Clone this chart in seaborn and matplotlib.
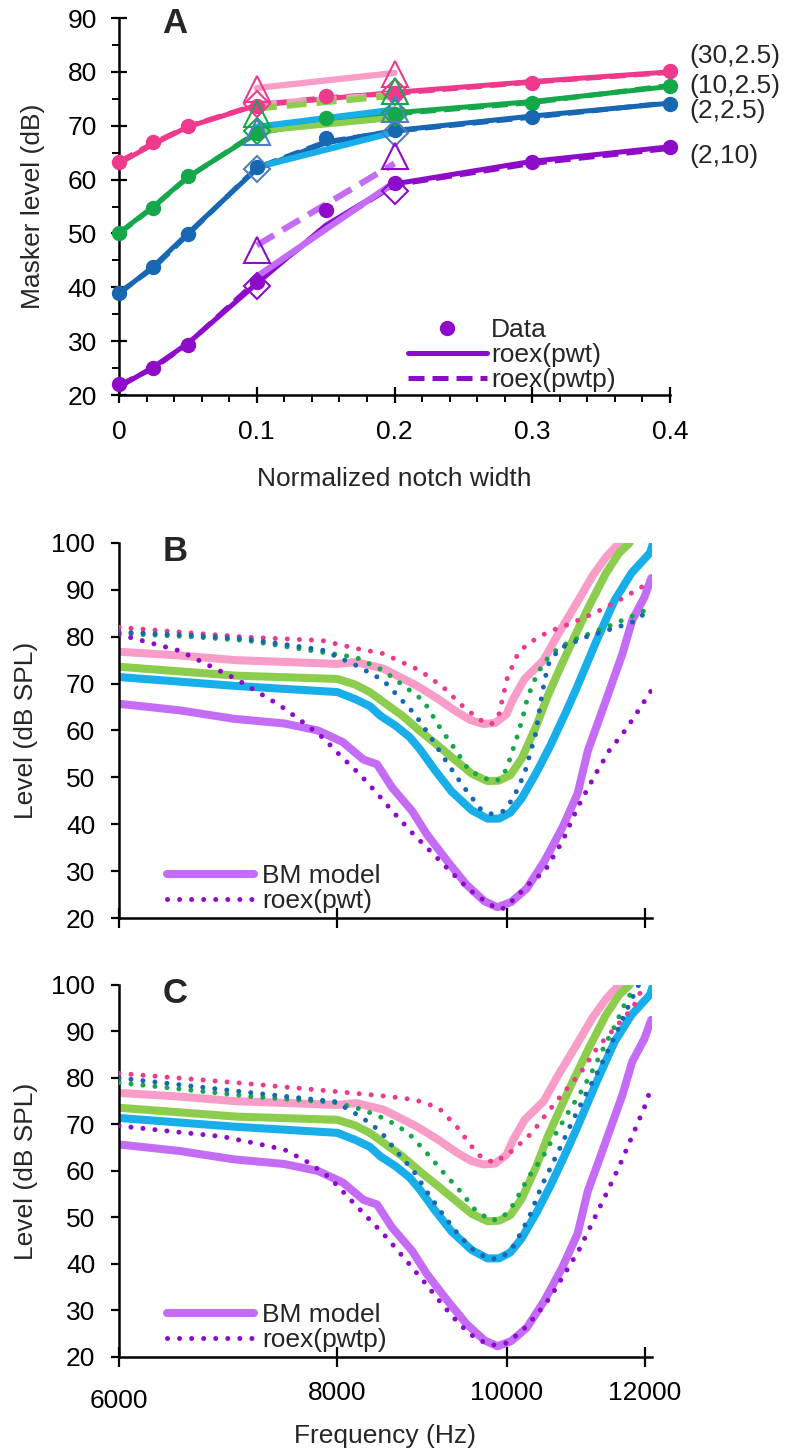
import matplotlib
matplotlib.use("Agg")
import matplotlib.pyplot as plt
import matplotlib.ticker as mticker
from matplotlib.lines import Line2D
import seaborn as sns

sns.set_theme(style="ticks")
plt.rcParams["font.family"] = ["Liberation Sans", "DejaVu Sans"]
plt.rcParams["axes.linewidth"] = 1.8
plt.rcParams["axes.edgecolor"] = "black"
plt.rcParams["xtick.color"] = "black"
plt.rcParams["ytick.color"] = "black"

FS = 19

# colours
dark = {"pink": "#EE3A8C", "green": "#14A84B", "blue": "#1767B2", "purple": "#8E0BC9"}
light = {"pink": "#F89CC8", "green": "#8DCD4E", "blue": "#18AEEA", "purple": "#C56CF6"}
open_edge = {"pink": "#EE3A8C", "green": "#14A84B", "blue": "#4F7FBF", "purple": "#8E0BC9"}
conds = ["pink", "green", "blue", "purple"]
cond_labels = {"pink": "(30,2.5)", "green": "(10,2.5)", "blue": "(2,2.5)", "purple": "(2,10)"}

# ---------------- panel A data ----------------
notch = [0, 0.025, 0.05, 0.1, 0.15, 0.2, 0.3, 0.4]
data_A = {
    "pink":   [63.2, 66.9, 69.9, 73.6, 75.5, 76.1, 78.0, 80.1],
    "green":  [50.0, 54.8, 60.6, 68.7, 71.5, 72.1, 74.2, 77.4],
    "blue":   [39.0, 43.7, 49.9, 62.3, 67.7, 69.3, 71.7, 74.1],
    "purple": [22.0, 25.0, 29.3, 41.0, 54.3, 59.4, 63.2, 66.0],
}
pwt_A = {
    "pink":   [63.0, 66.6, 69.8, 73.8, 75.0, 76.2, 78.2, 80.0],
    "green":  [50.1, 55.0, 60.5, 68.6, 70.8, 72.4, 74.5, 77.3],
    "blue":   [38.8, 43.9, 50.0, 62.0, 66.8, 69.1, 71.8, 74.2],
    "purple": [21.5, 25.2, 29.6, 40.7, 51.5, 59.2, 63.4, 66.1],
}
pwtp_A = {
    "pink":   [63.3, 66.8, 69.9, 73.9, 75.2, 76.0, 78.1, 79.9],
    "green":  [50.0, 54.9, 60.4, 68.8, 71.0, 72.2, 74.3, 77.5],
    "blue":   [39.0, 43.6, 49.8, 62.2, 67.0, 69.0, 71.6, 74.3],
    "purple": [21.8, 25.0, 29.5, 41.2, 51.0, 59.0, 63.0, 65.8],
}
bm_notch = [0.1, 0.2]
bm_upper_A = {"pink": [77.0, 79.8], "green": [73.2, 75.6], "blue": [69.8, 73.0], "purple": [47.8, 63.0]}
bm_lower_A = {"pink": [74.0, 75.8], "green": [69.0, 71.5], "blue": [62.3, 68.8], "purple": [42.0, 59.5]}
upper_dashed = {"pink": False, "green": True, "blue": False, "purple": True}
lower_dashed = {"pink": True, "green": False, "blue": False, "purple": False}
tri_A = {"pink": [76.9, 79.6], "green": [72.2, 76.5], "blue": [68.8, 73.2], "purple": [47.0, 64.3]}
dia_A = {"pink": [74.0, 76.2], "green": [69.0, 72.3], "blue": [62.0, 68.6], "purple": [40.3, 57.8]}
label_y_A = {"pink": 82.9, "green": 77.4, "blue": 72.7, "purple": 64.3}

# ---------------- BM model curves (panels B and C) ----------------
bm_f = {
    "pink": [6000, 6500, 7000, 7500, 8000, 8200, 8500, 8880, 9140, 9370, 9540, 9700, 9850, 10000,
             10080, 10240, 10500, 10700, 10960, 11200, 11400, 11600],
    "green": [6000, 7000, 8000, 8190, 8350, 8500, 8720, 8920, 9140, 9330, 9550, 9750, 9900, 10050,
              10200, 10400, 10560, 10750, 10910, 11140, 11400, 11600, 11760],
    "blue": [6000, 7000, 8000, 8190, 8350, 8470, 8640, 8800, 8920, 9100, 9300, 9550, 9750, 9900,
             10050, 10200, 10400, 10600, 10800, 10950, 11260, 11530, 11790, 12080, 12130],
    "purple": [6000, 6500, 6980, 7460, 7800, 8060, 8280, 8430, 8600, 8830, 9000, 9250, 9480, 9710,
               9880, 10060, 10270, 10510, 10760, 10980, 11130, 11290, 11450, 11650, 11800, 11990, 12100],
}
bm_db = {
    "pink": [76.8, 76.0, 75.0, 74.6, 74.2, 74.6, 73.2, 69.6, 66.7, 63.9, 62.2, 61.4, 61.6, 63.5,
             66.5, 71.0, 75.0, 80.5, 87.0, 93.0, 97.0, 100.0],
    "green": [73.6, 71.7, 71.0, 69.8, 68.2, 66.1, 63.1, 59.9, 56.7, 53.9, 50.8, 49.2, 49.3, 50.5,
              54.0, 61.0, 67.5, 74.0, 79.2, 86.3, 93.6, 97.9, 100.0],
    "blue": [71.4, 69.5, 68.2, 66.7, 65.2, 63.1, 61.0, 58.6, 56.0, 51.5, 47.0, 43.0, 41.2, 41.2,
             42.5, 45.5, 51.0, 57.0, 63.5, 68.5, 79.2, 87.8, 93.6, 97.9, 100.0],
    "purple": [65.7, 64.3, 62.5, 61.5, 60.0, 57.5, 53.8, 52.8, 47.8, 42.8, 37.9, 32.1, 27.2, 23.6,
               22.3, 23.4, 26.3, 32.1, 39.2, 46.5, 55.7, 62.1, 68.5, 76.4, 83.5, 88.4, 92.5],
}

# ---------------- roex(pwt) fits (panel B) ----------------
pwt_f = {
    "pink": [6000, 6500, 7100, 7840, 8200, 8500, 8920, 9200, 9450, 9650, 9800, 9900, 10010, 10150,
             10290, 10560, 10910, 11250, 11600, 11950, 12100],
    "green": [6000, 6600, 7100, 7840, 8200, 8500, 8960, 9160, 9340, 9520, 9800, 9910, 10000, 10060,
              10140, 10210, 10270, 10350, 10500, 10700, 10900, 11400, 12000, 12100],
    "blue": [6000, 6600, 7100, 7840, 8200, 8500, 8860, 9050, 9250, 9440, 9660, 9790, 9960, 10090,
             10240, 10390, 10480, 10560, 10720, 11110, 11420, 11790, 11960, 12100],
    "purple": [6000, 6500, 7000, 7421, 7632, 7849, 8034, 8238, 8426, 8602, 8838, 9070, 9282, 9525,
               9775, 9934, 10100, 10294, 10514, 10765, 10978, 11243, 11448, 11712, 11999, 12100],
}
pwt_db = {
    "pink": [82.0, 81.0, 79.9, 79.2, 77.5, 76.4, 72.8, 69.2, 65.0, 62.3, 61.3, 63.5, 71.3, 76.4,
             78.6, 81.0, 83.0, 85.2, 87.8, 90.6, 92.0],
    "green": [80.7, 80.0, 79.2, 76.7, 75.6, 72.8, 66.4, 60.6, 56.1, 51.4, 49.2, 49.5, 51.8, 54.8,
              58.7, 62.5, 66.4, 70.0, 74.5, 77.5, 79.2, 82.0, 85.6, 86.0],
    "blue": [81.0, 80.3, 79.5, 77.2, 73.9, 70.7, 63.5, 58.5, 53.0, 48.2, 43.3, 42.2, 42.8, 45.6,
             50.9, 59.3, 68.0, 74.0, 77.5, 80.0, 81.4, 83.0, 84.6, 85.5],
    "purple": [80.5, 77.0, 71.0, 65.3, 62.0, 58.5, 54.6, 50.7, 46.7, 42.8, 38.0, 33.8, 30.0, 26.0,
               22.9, 21.8, 24.0, 27.2, 30.0, 36.4, 43.5, 50.7, 55.7, 60.4, 66.4, 68.5],
}

# ---------------- roex(pwtp) fits (panel C) ----------------
pwtp_f = {
    "pink": [6000, 7000, 7977, 8573, 8865, 9142, 9366, 9554, 9670, 9836, 9945, 10080, 10340, 10560,
             10776, 11023, 11278, 11600, 11818, 11945],
    "green": [6000, 7150, 7977, 8270, 8545, 8783, 9000, 9200, 9420, 9600, 9800, 9950, 10100, 10290,
              10490, 10660, 10850, 11050, 11220, 11370, 11540, 11700, 11830],
    "blue": [6000, 7150, 7977, 8250, 8470, 8650, 8850, 9000, 9200, 9400, 9600, 9800, 9950, 10100,
             10300, 10470, 10700, 10900, 11100, 11300, 11500, 11760, 11900],
    "purple": [6000, 6432, 6877, 7150, 7461, 7704, 7920, 8090, 8300, 8500, 8750, 9000, 9200, 9400,
               9600, 9800, 10000, 10200, 10400, 10600, 10800, 11000, 11200, 11400, 11600, 11800,
               12000, 12100],
}
pwtp_db = {
    "pink": [81.0, 79.0, 77.1, 76.0, 75.3, 73.6, 69.5, 65.2, 63.0, 61.8, 62.9, 64.4, 68.2, 72.7,
             76.8, 81.1, 86.7, 91.8, 95.3, 98.9],
    "green": [79.0, 76.0, 74.7, 73.2, 71.0, 68.2, 63.9, 59.7, 55.4, 51.5, 49.3, 50.0, 53.0, 58.6,
              63.1, 67.8, 72.7, 77.5, 82.2, 86.7, 91.4, 96.4, 99.4],
    "blue": [80.0, 76.8, 74.9, 71.7, 68.5, 64.2, 59.9, 55.6, 50.5, 46.0, 42.5, 41.0, 41.5, 44.0,
             50.0, 56.7, 64.0, 70.5, 76.5, 82.0, 88.0, 96.0, 100.0],
    "purple": [69.7, 68.5, 67.4, 66.1, 64.6, 61.8, 58.6, 54.9, 50.5, 46.5, 41.0, 35.5, 31.0, 27.0,
               24.0, 22.5, 23.0, 25.5, 29.0, 33.0, 38.0, 43.0, 49.0, 55.0, 61.0, 67.5, 74.0, 78.0],
}

freq_ticks = [6000, 8000, 10000, 12000]
freq_labels = ["6000", "8000", "10000", "12000"]
level_ticks = [20, 30, 40, 50, 60, 70, 80, 90, 100]

DOT = (0, (0.01, 2.4))
DASH = (0, (3.2, 1.6))

fig = plt.figure(figsize=(7.89, 14.53), dpi=100)
axA = fig.add_axes([0.1508, 0.7281, 0.6984, 0.2595])
axB = fig.add_axes([0.1508, 0.3682, 0.6755, 0.2581])
axC = fig.add_axes([0.1508, 0.0661, 0.6755, 0.2560])

# ---------------- panel A ----------------
for c in conds:
    sns.lineplot(x=notch, y=pwt_A[c], ax=axA, color=dark[c], lw=3.6, zorder=3, clip_on=False)
    sns.lineplot(x=notch, y=pwtp_A[c], ax=axA, color=dark[c], lw=3.6, zorder=3,
                 linestyle=DASH, clip_on=False)
for c in conds:
    sns.lineplot(x=bm_notch, y=bm_upper_A[c], ax=axA, color=light[c], lw=4.5, zorder=4,
                 linestyle=DASH if upper_dashed[c] else "-")
    sns.lineplot(x=bm_notch, y=bm_lower_A[c], ax=axA, color=light[c], lw=4.5, zorder=4,
                 linestyle=DASH if lower_dashed[c] else "-")
for c in conds:
    sns.scatterplot(x=notch, y=data_A[c], ax=axA, color=dark[c], s=105, edgecolor=dark[c],
                    linewidth=0.8, zorder=6, clip_on=False, legend=False)
for c in conds:
    axA.plot(bm_notch, tri_A[c], ls="none", marker="^", ms=19, mfc="none",
             mec=open_edge[c], mew=1.5, zorder=7)
    axA.plot(bm_notch, dia_A[c], ls="none", marker="D", ms=13.5, mfc="none",
             mec=open_edge[c], mew=1.5, zorder=7)
    axA.text(0.414, label_y_A[c], cond_labels[c], fontsize=FS, va="center", ha="left",
             clip_on=False)

axA.set_xlim(0, 0.4)
axA.set_ylim(20, 90)
axA.set_xticks([0, 0.1, 0.2, 0.3, 0.4])
axA.set_xticklabels(["0", "0.1", "0.2", "0.3", "0.4"])
axA.set_yticks([20, 30, 40, 50, 60, 70, 80, 90])
axA.xaxis.set_minor_locator(mticker.MultipleLocator(0.02))
axA.yaxis.set_minor_locator(mticker.MultipleLocator(5))
axA.tick_params(which="major", direction="inout", length=12, width=1.6, labelsize=FS)
axA.tick_params(axis="y", which="major", pad=10)
axA.tick_params(axis="x", which="major", pad=12)
axA.tick_params(which="minor", direction="out", length=5, width=1.4)
axA.set_ylabel("Masker level (dB)", fontsize=FS)
axA.set_xlabel("Normalized notch width", fontsize=FS)
axA.yaxis.set_label_coords(-0.134, 0.5)
axA.xaxis.set_label_coords(0.5, -0.19)
axA.text(0.078, 1.03, "A", transform=axA.transAxes, fontsize=25, fontweight="bold", va="top")

legA = [
    Line2D([], [], ls="none", marker="o", ms=10, color=dark["purple"]),
    Line2D([], [], lw=3.6, color=dark["purple"]),
    Line2D([], [], lw=3.6, color=dark["purple"], ls=DASH),
]
axA.legend(legA, ["Data", "roex(pwt)", "roex(pwtp)"], loc="lower right",
           bbox_to_anchor=(0.93, -0.035), frameon=False, fontsize=FS, handlelength=3.0,
           handletextpad=0.15, labelspacing=0.05, borderaxespad=0.2)


# ---------------- panels B and C ----------------
def freq_panel(ax, fit_f, fit_db, fit_label, letter, show_labels):
    for c in conds:
        sns.lineplot(x=bm_f[c], y=bm_db[c], ax=ax, color=light[c], lw=5.8, zorder=2,
                     solid_capstyle="round", solid_joinstyle="round")
    for c in conds:
        sns.lineplot(x=fit_f[c], y=fit_db[c], ax=ax, color=dark[c], lw=3.6, zorder=3,
                     linestyle=DOT, dash_capstyle="round")
    ax.set_xscale("log")
    ax.set_xlim(6000, 12111)
    ax.set_ylim(20, 100)
    ax.set_yticks(level_ticks)
    ax.set_xticks(freq_ticks)
    ax.xaxis.set_minor_locator(mticker.NullLocator())
    ax.tick_params(axis="y", direction="out", length=6, width=1.6, labelsize=FS, pad=11)
    ax.tick_params(axis="x", direction="inout", length=15, width=1.6, labelsize=FS, pad=10)
    if show_labels:
        ax.set_xticklabels(freq_labels)
        ax.get_xticklabels()[0].set_y(-0.02)
        ax.set_xlabel("Frequency (Hz)", fontsize=FS)
        ax.xaxis.set_label_coords(0.5, -0.18)
    else:
        ax.set_xticklabels([])
        ax.set_xlabel("")
    ax.set_ylabel("Level (dB SPL)", fontsize=FS)
    ax.yaxis.set_label_coords(-0.152, 0.5)
    ax.text(0.082, 1.022, letter, transform=ax.transAxes, fontsize=25, fontweight="bold",
            va="top")
    handles = [
        Line2D([], [], lw=5.8, color=light["purple"], solid_capstyle="round"),
        Line2D([], [], lw=3.6, color=dark["purple"], ls=DOT, dash_capstyle="round"),
    ]
    ax.legend(handles, ["BM model", fit_label], loc="lower left", bbox_to_anchor=(0.06, -0.03),
              frameon=False, fontsize=FS, handlelength=3.3, handletextpad=0.3,
              labelspacing=0.05, borderaxespad=0.2)


freq_panel(axB, pwt_f, pwt_db, "roex(pwt)", "B", False)
freq_panel(axC, pwtp_f, pwtp_db, "roex(pwtp)", "C", True)

for ax in (axA, axB, axC):
    sns.despine(ax=ax)

fig.savefig("out.png", dpi=100)
